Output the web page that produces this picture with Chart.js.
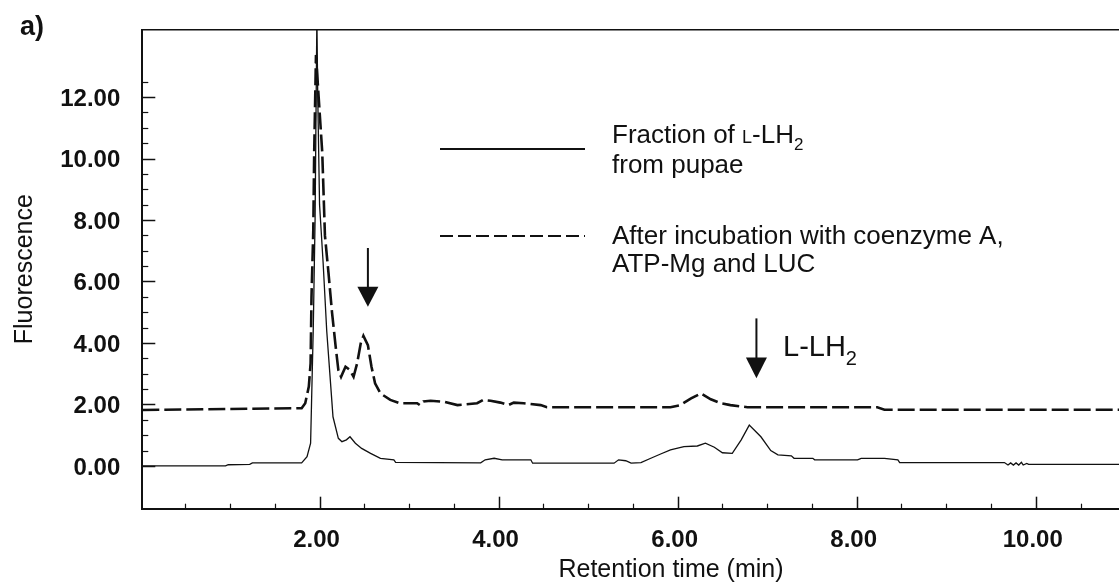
<!DOCTYPE html>
<html>
<head>
<meta charset="utf-8">
<style>
  html, body { margin: 0; padding: 0; background: #fff; overflow: hidden; }
  canvas { display: block; }
</style>
</head>
<body>
<canvas id="chart" width="1119" height="587"></canvas>
<script src="https://cdn.jsdelivr.net/npm/chart.js@4.4.1/dist/chart.umd.min.js"></script>
<script>
// trace of the L-LH2 fraction from pupae (retention time in min, fluorescence)
const fractionTime = [0.02, 0.95, 0.98, 1.22, 1.25, 1.80, 1.86, 1.90, 1.91, 1.93, 1.95, 1.97, 1.98, 2.00, 2.04,
  2.08, 2.12, 2.15, 2.21, 2.25, 2.30, 2.34, 2.40, 2.47, 2.57, 2.68, 2.83, 2.85, 3.80, 3.85, 3.95, 4.04, 4.36,
  4.38, 5.29, 5.34, 5.42, 5.48, 5.59, 5.70, 5.81, 5.92, 6.07, 6.22, 6.31, 6.41, 6.50, 6.61, 6.71, 6.80, 6.93,
  7.04, 7.12, 7.27, 7.30, 7.51, 7.53, 8.01, 8.05, 8.31, 8.46, 8.48, 9.65, 9.69, 9.72, 9.75, 9.78, 9.81, 9.84,
  9.86, 9.90, 9.92, 10.93];
const fractionSignal = [0.00, 0.00, 0.04, 0.05, 0.10, 0.10, 0.30, 0.74, 2.00, 4.50, 8.00, 14.60, 12.00, 8.50, 6.60,
  4.40, 2.80, 1.60, 0.90, 0.79, 0.85, 0.95, 0.74, 0.57, 0.41, 0.25, 0.20, 0.12, 0.10, 0.20, 0.25, 0.20, 0.20,
  0.09, 0.09, 0.20, 0.17, 0.09, 0.11, 0.25, 0.39, 0.52, 0.63, 0.65, 0.74, 0.61, 0.43, 0.41, 0.85, 1.33, 0.95,
  0.50, 0.36, 0.33, 0.25, 0.25, 0.20, 0.20, 0.25, 0.25, 0.20, 0.11, 0.11, 0.03, 0.10, 0.03, 0.10, 0.03, 0.12,
  0.03, 0.08, 0.05, 0.05];

// trace after incubation with coenzyme A, ATP-Mg and LUC
const incubatedTime = [0.02, 1.80, 1.84, 1.88, 1.90, 1.91, 1.93, 1.94, 1.96, 1.99, 2.03, 2.06, 2.10, 2.14, 2.18,
  2.21, 2.24, 2.29, 2.34, 2.38, 2.42, 2.46, 2.49, 2.54, 2.58, 2.62, 2.68, 2.79, 2.90, 3.09, 3.12, 3.16, 3.24,
  3.39, 3.54, 3.76, 3.83, 3.91, 4.02, 4.11, 4.17, 4.28, 4.47, 4.54, 5.92, 6.03, 6.15, 6.26, 6.37, 6.48, 6.59,
  6.78, 8.23, 8.31, 10.93];
const incubatedSignal = [1.82, 1.88, 2.04, 2.58, 3.34, 5.50, 7.67, 10.20, 13.37, 12.00, 10.20, 7.50, 6.27, 4.97, 3.88,
  3.12, 2.90, 3.23, 3.12, 2.90, 3.34, 3.99, 4.23, 3.93, 3.23, 2.69, 2.36, 2.15, 2.04, 2.04, 1.98, 2.10, 2.12,
  2.09, 1.98, 2.04, 2.15, 2.12, 2.06, 1.98, 2.06, 2.04, 1.98, 1.91, 1.91, 1.98, 2.20, 2.36, 2.17, 2.04, 1.98,
  1.91, 1.91, 1.83, 1.83];

const xTickValues = [2, 4, 6, 8, 10];
const xTickLabels = ['2.00', '4.00', '6.00', '8.00', '10.00'];
const yTickValues = [0, 2, 4, 6, 8, 10, 12];
const yTickLabels = ['0.00', '2.00', '4.00', '6.00', '8.00', '10.00', '12.00'];

const ink = '#111';
const FONT = '"Liberation Sans", Arial, Helvetica, sans-serif';

// arrows pointing at the peaks, in data units
const arrows = [
  { t: 2.54, from: 7.09, head: 5.83, tip: 5.18 },
  { t: 6.88, from: 4.80, head: 3.53, tip: 2.85 }
];

function toPoints(xs, ys) {
  return xs.map((t, i) => ({ x: t, y: ys[i] }));
}

// draws a run of text pieces with their own size / baseline shift
function drawRuns(ctx, runs, x, y) {
  runs.forEach(r => {
    ctx.font = r.font;
    ctx.fillText(r.text, x, y + (r.dy || 0));
    x += ctx.measureText(r.text).width;
  });
}

const decorations = {
  id: 'decorations',
  afterDraw(chart) {
    const { ctx, chartArea: area, scales: { x, y } } = chart;
    ctx.save();
    ctx.strokeStyle = ink;
    ctx.fillStyle = ink;
    ctx.setLineDash([]);

    // frame top
    ctx.lineWidth = 1.5;
    ctx.beginPath();
    ctx.moveTo(area.left, area.top);
    ctx.lineTo(area.right, area.top);
    ctx.stroke();

    // tick marks point inward
    x.ticks.forEach(tk => {
      if (tk.value < 0.5 || tk.value > 10.5) return;
      const px = Math.round(x.getPixelForValue(tk.value)) + 0.5;
      const major = tk.value % 2 === 0;
      ctx.lineWidth = major ? 1.5 : 1.2;
      ctx.beginPath();
      ctx.moveTo(px, area.bottom);
      ctx.lineTo(px, area.bottom - (major ? 12 : 5));
      ctx.stroke();
    });
    y.ticks.forEach(tk => {
      if (tk.value < 0 || tk.value > 12.5) return;
      const py = Math.round(y.getPixelForValue(tk.value)) + 0.5;
      const major = tk.value % 2 === 0;
      ctx.lineWidth = major ? 1.5 : 1.2;
      ctx.beginPath();
      ctx.moveTo(area.left, py);
      ctx.lineTo(area.left + (major ? 13 : 6), py);
      ctx.stroke();
    });

    // arrows
    arrows.forEach(a => {
      const ax = x.getPixelForValue(a.t);
      const hy = y.getPixelForValue(a.head);
      ctx.lineWidth = 2;
      ctx.beginPath();
      ctx.moveTo(ax, y.getPixelForValue(a.from));
      ctx.lineTo(ax, hy + 1);
      ctx.stroke();
      ctx.beginPath();
      ctx.moveTo(ax - 10.5, hy);
      ctx.lineTo(ax + 10.5, hy);
      ctx.lineTo(ax, y.getPixelForValue(a.tip));
      ctx.closePath();
      ctx.fill();
    });

    // legend
    ctx.lineWidth = 2;
    ctx.beginPath();
    ctx.moveTo(440, 149);
    ctx.lineTo(585, 149);
    ctx.stroke();
    ctx.setLineDash([13, 5]);
    ctx.beginPath();
    ctx.moveTo(440, 236);
    ctx.lineTo(585, 236);
    ctx.stroke();
    ctx.setLineDash([]);

    ctx.textAlign = 'left';
    ctx.textBaseline = 'alphabetic';
    drawRuns(ctx, [
      { text: 'Fraction of ', font: '26px ' + FONT },
      { text: 'L', font: '18px ' + FONT },
      { text: '-LH', font: '26px ' + FONT },
      { text: '2', font: '17px ' + FONT, dy: 7 }
    ], 612, 143);
    ctx.font = '26px ' + FONT;
    ctx.fillText('from pupae', 612, 173);
    ctx.fillText('After incubation with coenzyme A,', 612, 244);
    ctx.fillText('ATP-Mg and LUC', 612, 272);

    // peak label
    drawRuns(ctx, [
      { text: 'L-LH', font: '29px ' + FONT },
      { text: '2', font: '20px ' + FONT, dy: 9 }
    ], 783, 356);

    // panel letter and x title
    ctx.font = 'bold 27px ' + FONT;
    ctx.fillText('a)', 20, 35);
    ctx.font = '25px ' + FONT;
    ctx.textAlign = 'center';
    ctx.fillText('Retention time (min)', 671, 577);
    ctx.restore();
  }
};

new Chart(document.getElementById('chart'), {
  type: 'line',
  data: {
    datasets: [
      {
        label: 'Fraction of L-LH2 from pupae',
        data: toPoints(fractionTime, fractionSignal),
        borderColor: ink,
        borderWidth: 1.3,
        pointRadius: 0,
        tension: 0,
        fill: false
      },
      {
        label: 'After incubation with coenzyme A, ATP-Mg and LUC',
        data: toPoints(incubatedTime, incubatedSignal),
        borderColor: ink,
        borderWidth: 2.6,
        borderDash: [17, 5],
        pointRadius: 0,
        tension: 0,
        fill: false
      }
    ]
  },
  options: {
    responsive: false,
    animation: false,
    devicePixelRatio: 1,
    layout: { padding: { top: 29.7, left: 0, right: 0, bottom: 0 } },
    plugins: { legend: { display: false }, tooltip: { enabled: false } },
    scales: {
      x: {
        type: 'linear',
        min: 0.02,
        max: 10.93,
        border: { display: true, color: ink, width: 2 },
        grid: { display: false, drawTicks: false },
        ticks: {
          stepSize: 0.5,
          includeBounds: false,
          autoSkip: false,
          maxRotation: 0,
          padding: 17,
          labelOffset: -3,
          color: ink,
          font: { family: FONT, size: 24, weight: 'bold' },
          callback: v => {
            const i = xTickValues.indexOf(v);
            return i >= 0 ? xTickLabels[i] : '';
          }
        },
        afterFit: s => { s.height = 78.3; s.paddingLeft = 0; s.paddingRight = 0; }
      },
      y: {
        min: -1.39,
        max: 14.19,
        border: { display: true, color: ink, width: 2 },
        grid: { display: false, drawTicks: false },
        ticks: {
          stepSize: 0.5,
          includeBounds: false,
          autoSkip: false,
          padding: 22,
          labelOffset: 2,
          color: ink,
          font: { family: FONT, size: 24, weight: 'bold' },
          callback: v => {
            const i = yTickValues.indexOf(v);
            return i >= 0 ? yTickLabels[i] : '';
          }
        },
        title: {
          display: true,
          text: 'Fluorescence',
          color: ink,
          font: { family: FONT, size: 25 },
          padding: { top: 10, bottom: 0 }
        },
        afterFit: s => { s.width = 142.3; s.paddingTop = 0; s.paddingBottom = 0; }
      }
    }
  },
  plugins: [decorations]
});
</script>
</body>
</html>
